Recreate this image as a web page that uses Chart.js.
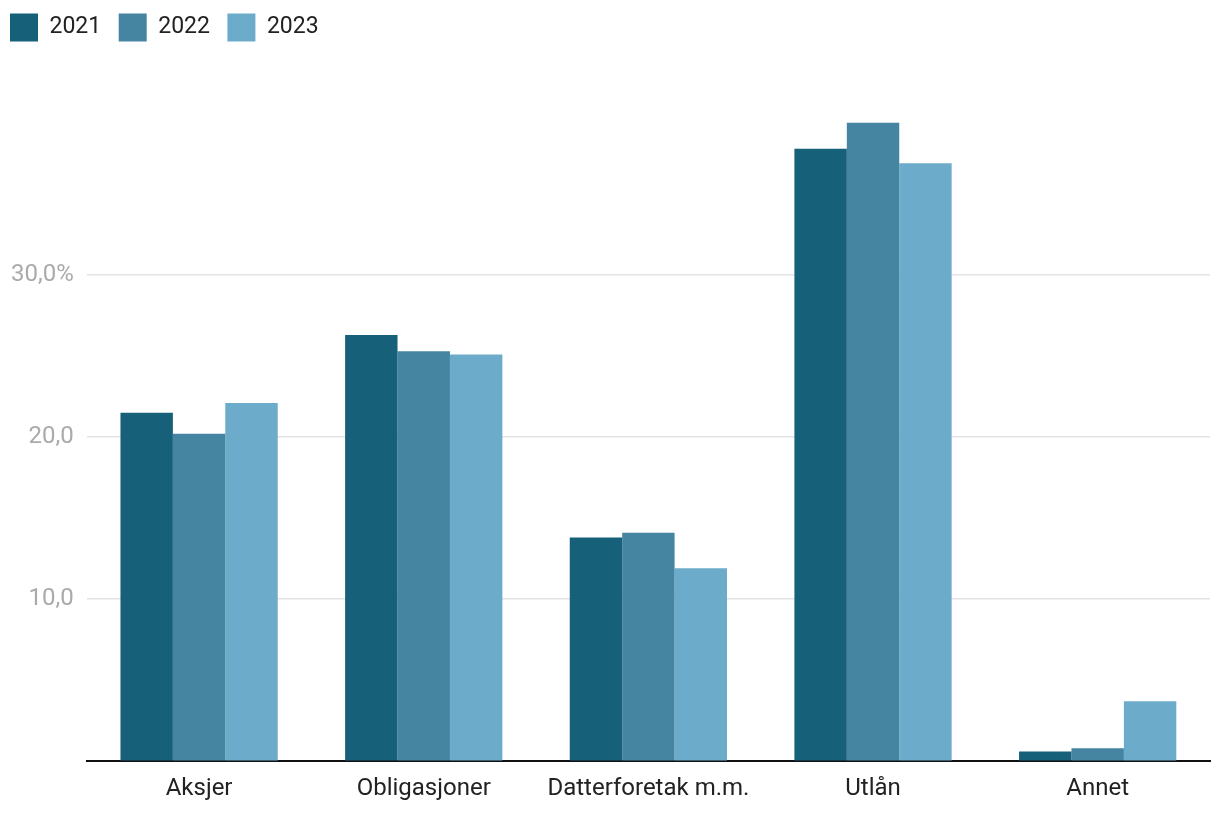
<!DOCTYPE html>
<html>
<head>
<meta charset="utf-8">
<script src="https://cdn.jsdelivr.net/npm/chart.js@4"></script>
<style>
  html, body { margin: 0; padding: 0; background: #fff; }
  #wrap { width: 1220px; height: 818px; }
</style>
</head>
<body>
<div id="wrap"><canvas id="grafico"></canvas></div>
<script>
const kategorier = ['Aksjer', 'Obligasjoner', 'Datterforetak m.m.', 'Utlån', 'Annet'];
const aar = ['2021', '2022', '2023'];
const verdier2021 = [21.5, 26.3, 13.8, 37.8, 0.6];
const verdier2022 = [20.2, 25.3, 14.1, 39.4, 0.8];
const verdier2023 = [22.1, 25.1, 11.9, 36.9, 3.7];
const farger = ['#16607a', '#4585a2', '#6cacca'];
const yTicks = { 10: '10,0', 20: '20,0', 30: '30,0%' };

Chart.defaults.font.family = 'Roboto, sans-serif';

// plass under legenden og flytt den litt mot venstre/opp
const legendePlass = {
    id: 'legendePlass',
    beforeInit(chart) {
        const fit = chart.legend.fit;
        chart.legend.fit = function() {
            fit.bind(chart.legend)();
            this.height = 113;
        };
    },
    afterLayout(chart) {
        chart.legend.left -= 5.5;
        chart.legend.top -= 4;
    }
};

const ctx = document.getElementById('grafico').getContext('2d');

new Chart(ctx, {
    type: 'bar',
    data: {
        labels: kategorier,
        datasets: [verdier2021, verdier2022, verdier2023].map((v, i) => ({
            label: aar[i],
            data: v,
            backgroundColor: farger[i],
            borderWidth: 0,
            categoryPercentage: 0.7,
            barPercentage: 1.0
        }))
    },
    options: {
        responsive: true,
        maintainAspectRatio: false,
        animation: false,
        layout: { padding: { left: -2, right: 10, top: 0, bottom: 2 } },
        plugins: {
            legend: {
                position: 'top',
                align: 'start',
                labels: {
                    boxWidth: 28,
                    boxHeight: 28,
                    color: '#222',
                    font: { size: 23 },
                    padding: 17.5
                }
            },
            tooltip: { enabled: false }
        },
        scales: {
            y: {
                min: 0,
                max: 40,
                ticks: {
                    stepSize: 10,
                    color: '#aaa',
                    font: { size: 24 },
                    padding: 13,
                    callback: function(value) {
                        return yTicks[value] || '';
                    }
                },
                grid: {
                    drawTicks: false,
                    color: function(c) {
                        const v = c.tick.value;
                        return (v === 0 || v === 40) ? 'rgba(0,0,0,0)' : '#e3e3e3';
                    },
                    lineWidth: 1.5
                },
                border: { display: false }
            },
            x: {
                ticks: {
                    color: '#222',
                    font: { size: 24 },
                    padding: 13
                },
                grid: { display: false, drawTicks: false },
                border: { display: true, color: '#111', width: 2 }
            }
        }
    },
    plugins: [legendePlass]
});
</script>
</body>
</html>
